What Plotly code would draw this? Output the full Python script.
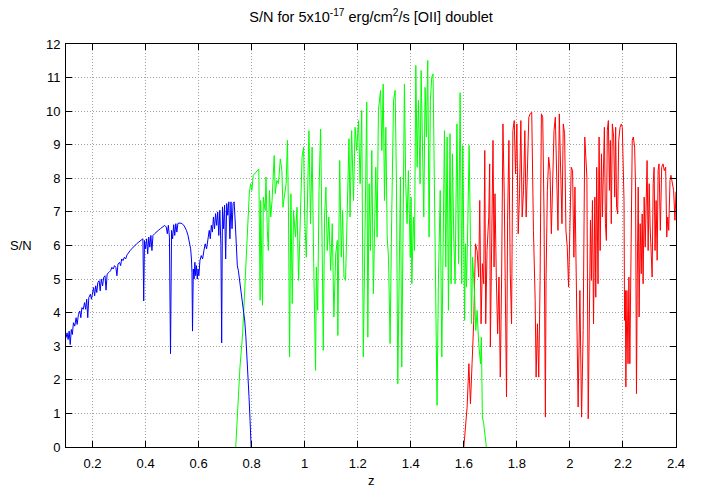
import plotly.graph_objects as go

# ---- data (z, S/N) ----
blue_z = [
    0.100, 0.104, 0.108, 0.112, 0.116, 0.120, 0.124, 0.128, 0.133, 0.138,
    0.142, 0.147, 0.152, 0.156, 0.160, 0.165, 0.170, 0.174, 0.178, 0.182,
    0.186, 0.192, 0.196, 0.200, 0.204, 0.208, 0.212, 0.216, 0.220, 0.225,
    0.229, 0.233, 0.238, 0.242, 0.247, 0.251, 0.255, 0.262, 0.268, 0.273,
    0.278, 0.283, 0.288, 0.292, 0.296, 0.302, 0.306, 0.310, 0.315, 0.320,
    0.325, 0.330, 0.336, 0.342, 0.350, 0.358, 0.366, 0.374, 0.382, 0.390,
    0.393, 0.396, 0.400, 0.404, 0.408, 0.412, 0.416, 0.420, 0.424, 0.428,
    0.434, 0.440, 0.448, 0.456, 0.464, 0.472, 0.478, 0.482, 0.486, 0.490,
    0.494, 0.498, 0.502, 0.506, 0.510, 0.514, 0.518, 0.522, 0.530, 0.538,
    0.546, 0.554, 0.560, 0.566, 0.570, 0.573, 0.575, 0.577, 0.580, 0.583,
    0.586, 0.589, 0.592, 0.595, 0.598, 0.601, 0.605, 0.610, 0.615, 0.620,
    0.625, 0.630, 0.635, 0.640, 0.644, 0.648, 0.652, 0.656, 0.660, 0.664,
    0.668, 0.672, 0.676, 0.680, 0.684, 0.687, 0.690, 0.694, 0.698, 0.702,
    0.706, 0.710, 0.714, 0.718, 0.722, 0.726, 0.730, 0.734, 0.738, 0.742,
    0.746, 0.750, 0.754, 0.758, 0.762, 0.766, 0.770, 0.774, 0.778, 0.782,
    0.786, 0.790, 0.794, 0.798,
]
blue_sn = [
    3.25, 3.40, 3.20, 3.45, 3.05, 3.50, 3.35, 3.70, 3.60, 3.85,
    3.65, 3.95, 4.05, 3.85, 4.15, 4.10, 4.30, 4.10, 4.40, 3.85,
    4.45, 4.55, 4.40, 4.65, 4.75, 4.50, 4.80, 4.60, 4.90, 4.95,
    4.65, 5.00, 4.80, 5.05, 5.10, 4.67, 5.15, 5.20, 5.25, 5.35,
    5.30, 5.40, 5.35, 5.10, 5.45, 5.50, 5.40, 5.60, 5.55, 5.65,
    5.60, 5.72, 5.80, 5.85, 5.92, 6.00, 6.05, 6.10, 6.15, 6.20,
    4.35, 6.15, 5.90, 6.20, 5.75, 6.25, 5.95, 6.30, 5.85, 6.30,
    6.35, 6.40, 6.45, 6.50, 6.55, 6.60, 6.55, 6.35, 6.60, 6.25,
    2.78, 6.45, 6.20, 6.62, 6.30, 6.65, 6.40, 6.66, 6.67, 6.65,
    6.58, 6.45, 6.30, 6.10, 5.90, 5.60, 5.20, 3.45, 5.30, 5.00,
    5.50, 5.10, 5.40, 5.00, 5.30, 5.10, 5.55, 5.70, 5.60, 5.85,
    6.05, 5.90, 6.25, 6.45, 6.20, 6.60, 6.40, 6.85, 6.50, 6.95,
    6.60, 7.00, 6.30, 7.05, 6.00, 3.10, 7.15, 6.50, 7.20, 5.60,
    7.25, 6.90, 7.30, 6.20, 7.30, 6.50, 7.25, 7.30, 6.70, 5.80,
    5.40, 5.25, 5.00, 4.80, 4.50, 4.30, 4.00, 3.75, 3.30, 2.80,
    2.20, 1.50, 0.80, 0.00,
]

green_z = [
    0.740, 0.756, 0.766, 0.775, 0.784, 0.791, 0.796, 0.801, 0.806, 0.819,
    0.827, 0.832, 0.834, 0.841, 0.844, 0.851, 0.854, 0.859, 0.863, 0.867,
    0.872, 0.877, 0.885, 0.889, 0.895, 0.901, 0.908, 0.914, 0.918, 0.923,
    0.930, 0.935, 0.939, 0.943, 0.948, 0.953, 0.958, 0.965, 0.971, 0.977,
    0.984, 0.990, 0.996, 1.000, 1.006, 1.011, 1.016, 1.022, 1.028, 1.034,
    1.041, 1.044, 1.049, 1.054, 1.060, 1.066, 1.070, 1.075, 1.080, 1.085,
    1.091, 1.098, 1.104, 1.110, 1.117, 1.123, 1.125, 1.132, 1.138, 1.143,
    1.148, 1.154, 1.161, 1.167, 1.171, 1.177, 1.184, 1.190, 1.196, 1.203,
    1.209, 1.215, 1.221, 1.228, 1.234, 1.238, 1.243, 1.248, 1.253, 1.259,
    1.263, 1.268, 1.273, 1.278, 1.286, 1.291, 1.296, 1.301, 1.306, 1.311,
    1.316, 1.322, 1.328, 1.335, 1.341, 1.346, 1.351, 1.356, 1.361, 1.366,
    1.372, 1.376, 1.381, 1.386, 1.391, 1.398, 1.401, 1.404, 1.410, 1.414,
    1.419, 1.424, 1.429, 1.435, 1.439, 1.444, 1.449, 1.454, 1.459, 1.464,
    1.469, 1.474, 1.479, 1.484, 1.489, 1.494, 1.499, 1.504, 1.511, 1.517,
    1.523, 1.527, 1.532, 1.537, 1.542, 1.548, 1.552, 1.557, 1.562, 1.567,
    1.574, 1.580, 1.586, 1.592, 1.596, 1.600, 1.603, 1.606, 1.610, 1.615,
    1.620, 1.625, 1.629, 1.633, 1.638, 1.641, 1.645, 1.650, 1.656, 1.663,
    1.666, 1.670, 1.675, 1.680, 1.685,
]
green_sn = [
    0.00, 2.38, 3.37, 4.86, 6.25, 7.54, 7.84, 7.64, 8.09, 8.23,
    8.28, 4.37, 7.34, 4.22, 7.44, 7.04, 8.04, 6.45, 5.85, 7.64,
    6.85, 7.34, 8.68, 7.54, 7.94, 7.84, 8.58, 8.23, 7.14, 7.44,
    7.84, 9.13, 6.85, 2.68, 7.54, 4.27, 7.04, 6.25, 7.14, 4.96,
    7.44, 8.63, 8.93, 6.85, 5.65, 8.04, 9.42, 6.65, 8.93, 5.46,
    2.28, 5.36, 4.07, 7.64, 9.47, 5.85, 2.88, 6.85, 7.74, 5.85,
    6.85, 5.26, 6.65, 3.87, 5.75, 6.15, 3.32, 8.53, 5.65, 7.04,
    5.06, 4.96, 7.34, 9.18, 6.85, 9.42, 7.34, 9.52, 8.83, 9.72,
    7.84, 10.02, 2.68, 6.85, 10.27, 3.27, 7.84, 5.85, 8.83, 4.56,
    6.85, 8.33, 6.25, 10.02, 10.62, 8.83, 10.81, 7.34, 9.52, 6.25,
    5.65, 3.08, 6.85, 10.32, 10.62, 7.84, 1.88, 5.46, 8.04, 2.38,
    9.33, 10.81, 7.84, 6.65, 8.23, 5.65, 7.44, 4.86, 6.85, 5.85,
    11.36, 8.33, 10.32, 7.84, 11.21, 9.33, 6.85, 10.71, 9.23, 11.51,
    6.25, 10.32, 11.01, 11.11, 7.84, 3.37, 1.24, 4.86, 7.64, 2.68,
    6.85, 9.42, 5.36, 9.23, 4.07, 9.33, 4.86, 8.73, 6.25, 4.86,
    9.62, 5.46, 10.55, 4.86, 8.97, 6.55, 3.77, 6.05, 4.76, 6.65,
    8.98, 6.15, 3.67, 5.65, 5.06, 4.46, 3.47, 4.07, 3.08, 2.48,
    3.27, 0.89, 0.69, 0.30, 0.00,
]

red_z = [
    1.600, 1.6125, 1.619, 1.625, 1.631, 1.6375, 1.644, 1.650, 1.656, 1.660,
    1.665, 1.670, 1.675, 1.679, 1.6825, 1.6875, 1.694, 1.6975, 1.700, 1.705,
    1.710, 1.714, 1.7175, 1.7225, 1.7275, 1.7325, 1.7375, 1.7425, 1.7475, 1.7525,
    1.7575, 1.761, 1.765, 1.770, 1.775, 1.780, 1.785, 1.790, 1.795, 1.800,
    1.805, 1.810, 1.815, 1.820, 1.825, 1.830, 1.835, 1.840, 1.845, 1.850,
    1.856, 1.8625, 1.869, 1.8725, 1.8775, 1.8825, 1.8875, 1.8925, 1.8975, 1.9025,
    1.9075, 1.910, 1.915, 1.920, 1.925, 1.930, 1.935, 1.940, 1.945, 1.950,
    1.955, 1.960, 1.965, 1.970, 1.975, 1.980, 1.985, 1.990, 1.995, 2.000,
    2.005, 2.010, 2.015, 2.019, 2.031, 2.0375, 2.044, 2.050, 2.056, 2.060,
    2.064, 2.069, 2.0725, 2.0775, 2.081, 2.085, 2.089, 2.094, 2.0975, 2.101,
    2.106, 2.110, 2.114, 2.119, 2.1225, 2.126, 2.130, 2.134, 2.1375, 2.141,
    2.145, 2.149, 2.1525, 2.156, 2.160, 2.165, 2.169, 2.1725, 2.176, 2.180,
    2.184, 2.189, 2.194, 2.1975, 2.201, 2.204, 2.206, 2.209, 2.211, 2.215,
    2.219, 2.2225, 2.226, 2.231, 2.235, 2.239, 2.244, 2.2475, 2.251, 2.254,
    2.2575, 2.261, 2.265, 2.269, 2.2725, 2.276, 2.280, 2.284, 2.2875, 2.291,
    2.295, 2.299, 2.3025, 2.306, 2.310, 2.314, 2.3175, 2.321, 2.325, 2.329,
    2.3325, 2.336, 2.341, 2.346, 2.351, 2.356, 2.361, 2.365, 2.369, 2.3725,
    2.3775, 2.381, 2.386, 2.391, 2.396, 2.400,
]
red_sn = [
    0.00, 1.19, 2.48, 1.29, 2.48, 3.77, 6.05, 5.85, 5.06, 7.34,
    3.67, 5.46, 4.86, 8.83, 3.67, 5.85, 6.85, 8.43, 2.98, 6.15,
    9.13, 5.36, 7.54, 5.06, 3.37, 5.06, 2.08, 5.06, 9.62, 7.44,
    3.67, 1.49, 6.75, 9.13, 5.16, 3.67, 9.42, 9.72, 8.13, 9.62,
    6.35, 7.54, 9.72, 6.85, 7.64, 9.42, 6.85, 8.13, 9.82, 9.92,
    9.97, 6.45, 4.37, 2.08, 3.67, 2.08, 4.96, 9.92, 9.82, 6.85,
    0.89, 4.96, 7.64, 8.63, 8.23, 6.35, 7.84, 9.42, 9.82, 7.64,
    6.45, 9.92, 8.63, 6.65, 9.62, 9.33, 6.45, 5.95, 4.76, 7.14,
    8.33, 8.23, 5.65, 7.74, 1.19, 4.66, 0.89, 3.47, 9.23, 8.63,
    8.04, 0.84, 4.07, 6.75, 4.96, 7.34, 3.67, 7.44, 4.46, 8.33,
    4.86, 9.23, 5.85, 8.73, 6.85, 8.23, 9.52, 6.65, 6.15, 9.42,
    9.72, 7.64, 9.13, 6.65, 9.62, 9.23, 7.44, 9.52, 7.14, 6.94,
    9.13, 9.52, 9.62, 9.52, 8.04, 7.34, 3.77, 4.66, 1.79, 4.66,
    2.48, 5.06, 2.48, 7.74, 9.13, 9.23, 8.93, 7.74, 1.59, 5.06,
    7.74, 3.87, 6.65, 5.16, 6.94, 4.86, 7.44, 5.95, 8.04, 8.53,
    5.85, 7.84, 6.55, 5.75, 5.06, 7.84, 8.33, 5.85, 7.34, 5.56,
    8.23, 8.43, 6.45, 8.33, 8.43, 8.23, 8.33, 6.25, 6.85, 6.45,
    7.94, 8.09, 7.84, 7.64, 6.75, 7.60,
]

x_ticks = [0.2, 0.4, 0.6, 0.8, 1.0, 1.2, 1.4, 1.6, 1.8, 2.0, 2.2, 2.4]
x_labels = ["0.2", "0.4", "0.6", "0.8", "1", "1.2", "1.4", "1.6", "1.8", "2", "2.2", "2.4"]

FONT = "Liberation Sans, Arial, sans-serif"

fig = go.Figure()

# red first so green and blue sit on top where they overlap
for zs, sn, color in [
    (red_z, red_sn, "#ff0000"),
    (green_z, green_sn, "#00ff00"),
    (blue_z, blue_sn, "#0000ff"),
]:
    fig.add_trace(
        go.Scatter(
            x=zs, y=sn,
            mode="lines",
            line=dict(color=color, width=1),
            showlegend=False,
            hoverinfo="skip",
        )
    )

# the page body has an 8px margin, so the figure is sized to fit inside it
fig.update_layout(
    width=693,
    height=483,
    paper_bgcolor="white",
    plot_bgcolor="white",
    margin=dict(l=58, r=25, t=36, b=44),
    font=dict(family=FONT, size=13, color="black"),
    title=dict(
        text="S/N for 5x10<sup>-17</sup> erg/cm<sup>2</sup>/s [OII] doublet",
        x=0.5, xref="paper", xanchor="center",
        y=0.982, yref="container", yanchor="middle",
        font=dict(family=FONT, size=14.5),
    ),
    showlegend=False,
)

axis_common = dict(
    showline=True, linecolor="black", linewidth=1, mirror="allticks",
    ticks="inside", ticklen=6, tickcolor="black", tickwidth=1,
    showgrid=True, gridcolor="#a0a0a0", griddash="1px,2px", gridwidth=1,
    zeroline=False,
    tickfont=dict(family=FONT, size=13),
)

fig.update_xaxes(
    range=[0.1, 2.4],
    tickvals=x_ticks, ticktext=x_labels,
    ticklabelstandoff=4,
    **axis_common,
)
fig.update_yaxes(
    range=[0, 12], dtick=1,
    ticklabelstandoff=2,
    **axis_common,
)

fig.add_annotation(
    text="z", x=0.5, xref="paper", y=-0.084, yref="paper",
    yanchor="middle", showarrow=False, font=dict(family=FONT, size=13),
)
fig.add_annotation(
    text="S/N", x=-0.074, xref="paper", y=0.5, yref="paper",
    xanchor="center", showarrow=False, font=dict(family=FONT, size=13),
)

fig.write_html("out.html")
